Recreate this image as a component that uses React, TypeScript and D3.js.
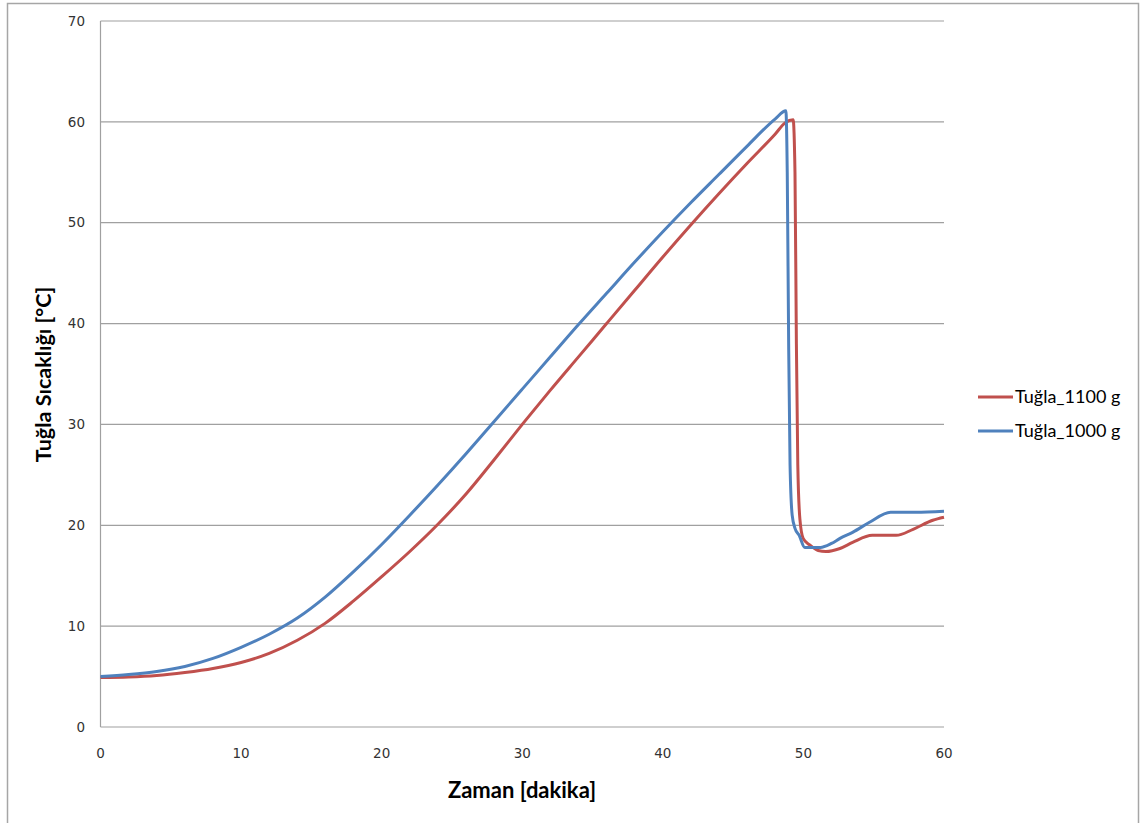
import React from "react";
import * as d3 from "d3";

const timeRed = [0, 2, 4, 6, 8, 10, 12, 14, 16, 18, 20, 22, 24, 26, 28, 30, 32, 34, 36, 38, 40, 42, 44, 46, 48, 48.7, 49.27, 49.4, 49.5, 49.6, 49.75, 49.98, 50.45, 51.05, 51.6, 52.6, 53.5, 54.9, 56.6, 57.8, 59.2, 60];
const tempRed = [4.9, 4.95, 5.1, 5.4, 5.8, 6.4, 7.3, 8.6, 10.3, 12.5, 14.9, 17.4, 20.1, 23.1, 26.5, 30.0, 33.4, 36.7, 40.0, 43.3, 46.6, 49.8, 52.9, 55.9, 58.8, 59.9, 60.2, 55, 38, 26, 20.6, 18.7, 18.05, 17.5, 17.4, 17.7, 18.3, 19.0, 19.0, 19.6, 20.5, 20.8];

const timeBlue = [0, 2, 4, 6, 8, 10, 12, 14, 16, 18, 20, 22, 24, 26, 28, 30, 32, 34, 36, 38, 40, 42, 44, 46, 48, 48.75, 48.85, 48.95, 49.05, 49.2, 49.4, 49.7, 50.1, 51.2, 52.0, 52.6, 53.5, 54.7, 56.2, 58, 60];
const tempBlue = [5.0, 5.2, 5.5, 6.0, 6.8, 7.9, 9.2, 10.8, 12.9, 15.4, 18.1, 21.0, 24.0, 27.1, 30.3, 33.5, 36.7, 39.9, 43.0, 46.1, 49.1, 52.0, 54.8, 57.6, 60.3, 61.1, 55, 38, 26, 21, 19.7, 19.0, 17.8, 17.8, 18.2, 18.7, 19.3, 20.3, 21.3, 21.3, 21.4];

const xTicks = [0, 10, 20, 30, 40, 50, 60];
const yTicks = [0, 10, 20, 30, 40, 50, 60, 70];
const seriesNames = ["Tuğla_1100 g", "Tuğla_1000 g"];
const seriesColors = ["#C0504D", "#4F81BD"];

export default function App() {
  const x = d3.scaleLinear().domain([0, 60]).range([100.5, 944]);
  const y = d3.scaleLinear().domain([0, 70]).range([727, 21]);
  const line = d3
    .line<[number, number]>()
    .x((d) => x(d[0]))
    .y((d) => y(d[1]))
    .curve(d3.curveMonotoneX);
  const red: [number, number][] = timeRed.map((t, i) => [t, tempRed[i]]);
  const blue: [number, number][] = timeBlue.map((t, i) => [t, tempBlue[i]]);
  const series = [red, blue];
  const tickFont = "'DejaVu Sans', Verdana, sans-serif";
  const titleFont = "Lato, 'Open Sans', sans-serif";

  return (
    <svg
      width={1141}
      height={823}
      style={{ position: "absolute", left: 0, top: 0, background: "#fff" }}
    >
      <rect x={7.5} y={3.5} width={1131} height={830} fill="#fff" stroke="#a6a6a6" strokeWidth={1.5} />
      {yTicks.map((t) => (
        <line key={"g" + t} x1={x(0)} x2={x(60)} y1={y(t)} y2={y(t)} stroke="#a0a0a0" strokeWidth={1.2} />
      ))}
      <line x1={x(0)} x2={x(0)} y1={y(0)} y2={y(70)} stroke="#a0a0a0" strokeWidth={1.2} />
      {yTicks.map((t) => (
        <text key={"yl" + t} x={85} y={y(t)} dy="0.35em" textAnchor="end" fontFamily={tickFont} fontSize={13.5} fill="#333">
          {t}
        </text>
      ))}
      {xTicks.map((t) => (
        <text key={"xl" + t} x={x(t)} y={753} dy="0.35em" textAnchor="middle" fontFamily={tickFont} fontSize={13.5} fill="#333">
          {t}
        </text>
      ))}
      {series.map((s, i) => (
        <path key={"s" + i} d={line(s) || ""} fill="none" stroke={seriesColors[i]} strokeWidth={3} strokeLinejoin="round" />
      ))}
      <text x={522} y={790} dy="0.35em" textAnchor="middle" fontFamily={titleFont} fontWeight="bold" fontSize={22} fill="#000">
        Zaman [dakika]
      </text>
      <text
        transform={`translate(43.5,374.5) rotate(-90)`}
        dy="0.35em"
        textAnchor="middle"
        fontFamily={titleFont}
        fontWeight="bold"
        fontSize={21.5}
        fill="#000"
      >
        Tuğla Sıcaklığı [°C]
      </text>
      {seriesNames.map((n, i) => (
        <g key={"lg" + i}>
          <line x1={978} x2={1013} y1={397 + i * 34} y2={397 + i * 34} stroke={seriesColors[i]} strokeWidth={3} />
          <text x={1015} y={397 + i * 34} dy="0.35em" fontFamily={titleFont} fontSize={18} fill="#000">
            {n}
          </text>
        </g>
      ))}
    </svg>
  );
}
